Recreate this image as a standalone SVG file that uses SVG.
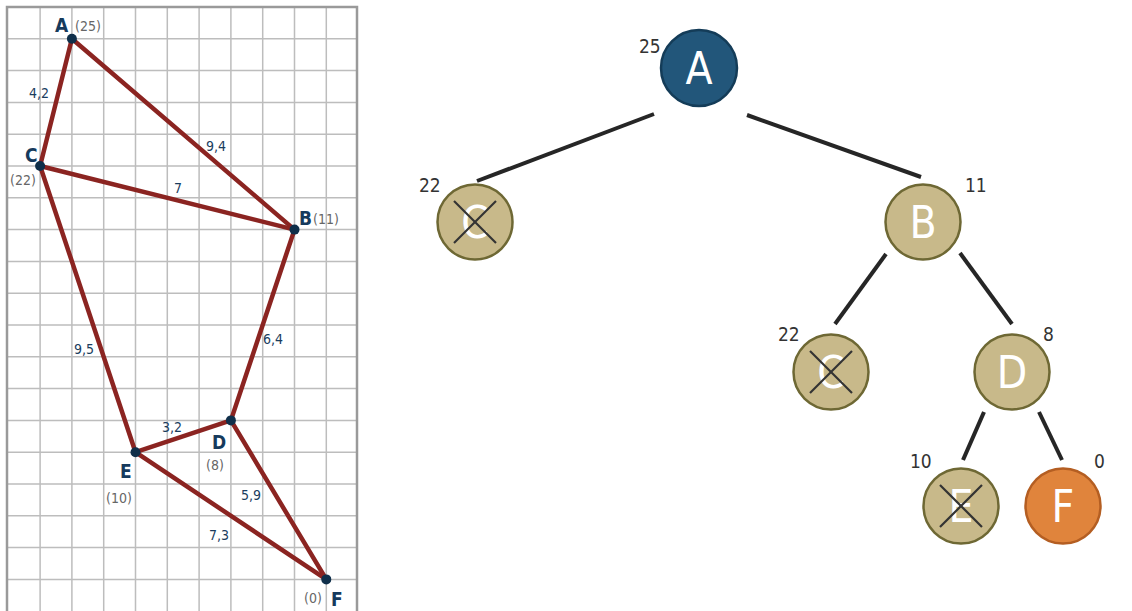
<svg xmlns="http://www.w3.org/2000/svg" width="1132" height="611" viewBox="0 0 1132 611">
<defs>
<style>
.grid{stroke:#bdbdbd;stroke-width:1.5}
.border{stroke:#9a9a9a;stroke-width:2.5;fill:none}
.edge{stroke:#8b2421;stroke-width:4.5;stroke-linecap:round}
.dot{fill:#0f2f4a}
.pl{font-family:"DejaVu Sans Condensed","DejaVu Sans",sans-serif;font-weight:bold;font-size:19px;fill:#163a5c}
.pv{font-family:"DejaVu Sans Condensed","DejaVu Sans",sans-serif;font-size:14px;fill:#666}
.el{font-family:"DejaVu Sans Condensed","DejaVu Sans",sans-serif;font-size:14px;fill:#1a3d5e}
.conn{stroke:#262626;stroke-width:4}
.nd{fill:#c8b98a;stroke:#6e6834;stroke-width:2.5}
.ndA{fill:#22567a;stroke:#143c58;stroke-width:2.5}
.ndF{fill:#e0843c;stroke:#b45e22;stroke-width:2.5}
.nl{font-family:"DejaVu Sans Condensed","DejaVu Sans",sans-serif;font-size:44px;fill:#fff;text-anchor:middle}
.nv{font-family:"DejaVu Sans Condensed","DejaVu Sans",sans-serif;font-size:19px;fill:#333}
.x{stroke:#333;stroke-width:2.2}
</style>
</defs>
<g id="grid">
<path class="grid" d="M40.1 7V611M71.9 7V611M103.7 7V611M135.5 7V611M167.3 7V611M199.1 7V611M230.9 7V611M262.7 7V611M294.5 7V611M326.3 7V611M7 38.8H357M7 70.6H357M7 102.4H357M7 134.2H357M7 166H357M7 197.8H357M7 229.6H357M7 261.4H357M7 293.2H357M7 325H357M7 356.8H357M7 388.6H357M7 420.4H357M7 452.2H357M7 484H357M7 515.8H357M7 547.6H357M7 579.4H357"/>
<path class="border" d="M7 611V7H357V611"/>
</g>
<g id="map-edges">
<line class="edge" x1="71.9" y1="38.8" x2="40.1" y2="166"/>
<line class="edge" x1="71.9" y1="38.8" x2="294.5" y2="229.6"/>
<line class="edge" x1="40.1" y1="166" x2="294.5" y2="229.6"/>
<line class="edge" x1="40.1" y1="166" x2="135.5" y2="452.2"/>
<line class="edge" x1="294.5" y1="229.6" x2="230.9" y2="420.4"/>
<line class="edge" x1="135.5" y1="452.2" x2="230.9" y2="420.4"/>
<line class="edge" x1="135.5" y1="452.2" x2="326.3" y2="579.4"/>
<line class="edge" x1="230.9" y1="420.4" x2="326.3" y2="579.4"/>
</g>
<g id="map-edge-labels">
<text class="el" x="29" y="98">4,2</text>
<text class="el" x="206" y="151">9,4</text>
<text class="el" x="174" y="193">7</text>
<text class="el" x="74" y="354">9,5</text>
<text class="el" x="263" y="344">6,4</text>
<text class="el" x="162" y="432">3,2</text>
<text class="el" x="241" y="500">5,9</text>
<text class="el" x="209" y="540">7,3</text>
</g>
<g id="map-A"><circle class="dot" cx="71.9" cy="38.8" r="5"/><text class="pl" x="55" y="32">A</text><text class="pv" x="75" y="31">(25)</text></g>
<g id="map-C"><circle class="dot" cx="40.1" cy="166" r="5"/><text class="pl" x="25" y="162">C</text><text class="pv" x="10" y="185">(22)</text></g>
<g id="map-B"><circle class="dot" cx="294.5" cy="229.6" r="5"/><text class="pl" x="299" y="225">B</text><text class="pv" x="313" y="224">(11)</text></g>
<g id="map-D"><circle class="dot" cx="230.9" cy="420.4" r="5"/><text class="pl" x="212" y="449">D</text><text class="pv" x="206" y="470">(8)</text></g>
<g id="map-E"><circle class="dot" cx="135.5" cy="452.2" r="5"/><text class="pl" x="120" y="478">E</text><text class="pv" x="106" y="503">(10)</text></g>
<g id="map-F"><circle class="dot" cx="326.3" cy="579.4" r="5"/><text class="pl" x="331" y="606">F</text><text class="pv" x="304" y="603">(0)</text></g>
<g id="connectors">
<line class="conn" x1="654" y1="114" x2="477" y2="181"/>
<line class="conn" x1="747" y1="115" x2="921" y2="177"/>
<line class="conn" x1="886" y1="254" x2="835" y2="324"/>
<line class="conn" x1="960" y1="253" x2="1012" y2="324"/>
<line class="conn" x1="984" y1="412" x2="963" y2="460"/>
<line class="conn" x1="1039" y1="412" x2="1062" y2="460"/>
</g>
<g id="node-A"><circle class="ndA" cx="699" cy="68" r="38"/><text class="nl" x="699" y="84">A</text><text class="nv" x="639" y="53">25</text></g>
<g id="node-C1"><circle class="nd" cx="475" cy="222" r="37.5"/><text class="nl" x="475" y="238">C</text><line class="x" x1="454" y1="201" x2="496" y2="243"/><line class="x" x1="496" y1="201" x2="454" y2="243"/><text class="nv" x="419" y="192">22</text></g>
<g id="node-B"><circle class="nd" cx="923" cy="222" r="37.5"/><text class="nl" x="923" y="238">B</text><text class="nv" x="965" y="192">11</text></g>
<g id="node-C2"><circle class="nd" cx="831" cy="372" r="37.5"/><text class="nl" x="831" y="388">C</text><line class="x" x1="810" y1="351" x2="852" y2="393"/><line class="x" x1="852" y1="351" x2="810" y2="393"/><text class="nv" x="778" y="341">22</text></g>
<g id="node-D"><circle class="nd" cx="1012" cy="372" r="37.5"/><text class="nl" x="1012" y="388">D</text><text class="nv" x="1043" y="341">8</text></g>
<g id="node-E"><circle class="nd" cx="961" cy="506" r="37.5"/><text class="nl" x="961" y="522">E</text><line class="x" x1="940" y1="485" x2="982" y2="527"/><line class="x" x1="982" y1="485" x2="940" y2="527"/><text class="nv" x="910" y="468">10</text></g>
<g id="node-F"><circle class="ndF" cx="1063" cy="506" r="37.5"/><text class="nl" x="1063" y="522">F</text><text class="nv" x="1094" y="468">0</text></g>
</svg>
